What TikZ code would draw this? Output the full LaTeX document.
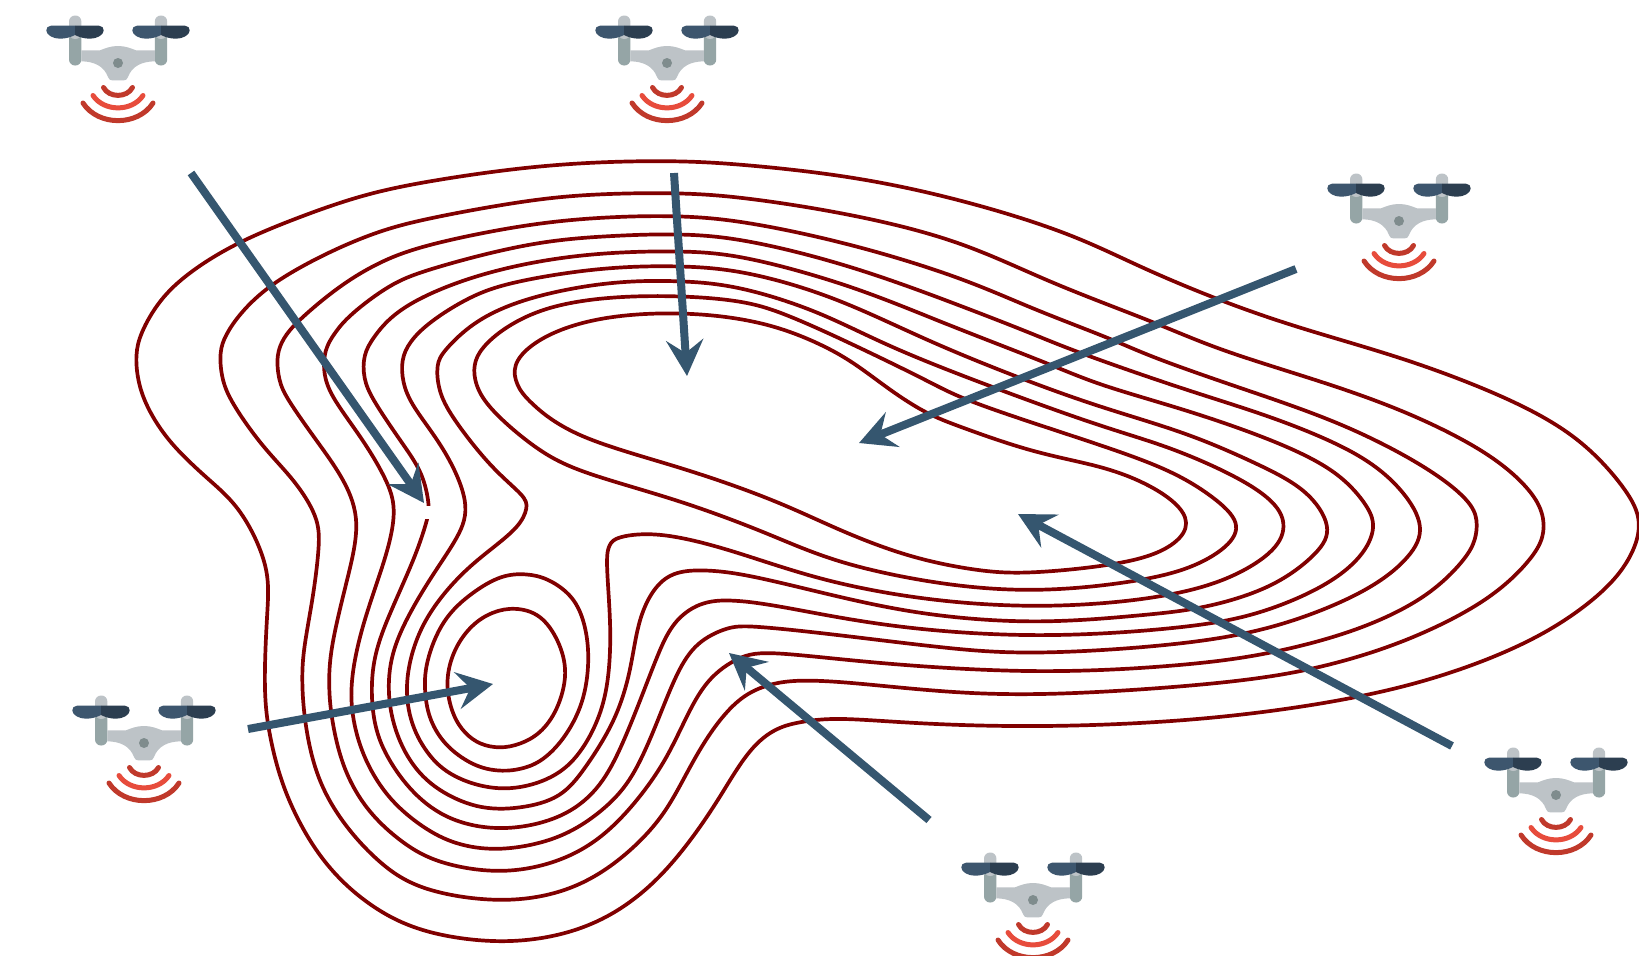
\documentclass[tikz,border=0pt]{standalone}
\usetikzlibrary{arrows.meta,calc}
\definecolor{contourred}{HTML}{800000}
\definecolor{arrowblue}{HTML}{35566F}
\definecolor{propL}{HTML}{3D566E}
\definecolor{propR}{HTML}{2C3E50}
\definecolor{greyA}{HTML}{BDC3C7}
\definecolor{greyB}{HTML}{95A5A6}
\definecolor{greyC}{HTML}{7F8C8D}
\definecolor{sigA}{HTML}{C0392B}
\definecolor{sigB}{HTML}{E74C3C}
\tikzset{
  contour/.style={draw=contourred,line width=3.7pt,line join=round},
  flight/.style={draw=arrowblue,line width=8pt,-{Stealth[length=36pt,width=37pt,inset=13pt]}},
  signal/.style={line width=5pt,line cap=round},
  propeller/.pic={
    \fill[propL] (0,-37.3) -- (-24,-37.3) .. controls (-27,-37.3) and (-29,-35) .. (-28.7,-32.5) .. controls (-28.5,-28) and (-22,-24.3) .. (-15,-24.3) .. controls (-9,-24.3) and (-4,-26) .. (0,-28) -- cycle;
    \fill[propR] (0,-37.3) -- (24,-37.3) .. controls (27,-37.3) and (29,-35) .. (28.7,-32.5) .. controls (28.5,-28) and (22,-24.3) .. (15,-24.3) .. controls (9,-24.3) and (4,-26) .. (0,-28) -- cycle;
  },
  drone/.pic={
    \fill[greyB,rounded corners=6pt] (-49,-30) rectangle (-36.6,2.5);
    \fill[greyB,rounded corners=6pt] (36.8,-30) rectangle (49.2,2.5);
    \fill[greyA,rounded corners=6pt] (-49,-47.5) rectangle (-36.6,-24);
    \fill[greyA,rounded corners=6pt] (36.8,-47.5) rectangle (49.2,-24);
    \pic at (-43,0) {propeller};
    \pic at (43,0) {propeller};
    \fill[greyA] (-36.6,-12.7) -- (-18,-12.7) .. controls (-12,-15) and (-7,-17) .. (0,-17) .. controls (7,-17) and (12,-15) .. (18,-12.7) -- (36.8,-12.7) -- (36.8,-1.7) .. controls (24,-1.5) and (14,3) .. (10,14) .. controls (9,16.5) and (8,17.3) .. (6,17.3) -- (-6,17.3) .. controls (-8,17.3) and (-9,16.5) .. (-10,14) .. controls (-14,3) and (-24,-1.5) .. (-36.6,-1.7) -- cycle;
    \fill[greyC] (0,0) circle (5pt);
    \draw[signal,sigA] (-14.5,24.5) .. controls (-9,35) and (9,35) .. (14.5,24.5);
    \draw[signal,sigB] (-25,32.5) .. controls (-14,49) and (14,49) .. (25,32.5);
    \draw[signal,sigA] (-35,40) .. controls (-20,63.5) and (20,63.5) .. (35,40);
  }
}
% closed C2 spline: the listed points are pushed out a little, then used as B-spline control points
\newcommand\isoline[1]{%
  \foreach \p [count=\i from 0] in {#1} {\edef\storecmd{\noexpand\coordinate (R\i) at \p;}\storecmd \xdef\lastpt{\i}}%
  \pgfmathtruncatemacro\ptcount{\lastpt+1}%
  \foreach \i [evaluate=\i as \a using {int(mod(\i+\ptcount-1,\ptcount))},evaluate=\i as \b using {int(mod(\i+1,\ptcount))}] in {0,...,\lastpt}
    {\coordinate (B\i) at ($1.16667*(R\i)-0.08333*(R\a)-0.08333*(R\b)$);}%
  \draw[contour] ($0.16667*(B\lastpt)+0.66667*(B0)+0.16667*(B1)$)
    \foreach \i [evaluate=\i as \j using {int(mod(\i+1,\ptcount))},evaluate=\i as \k using {int(mod(\i+2,\ptcount))}] in {0,...,\lastpt}
    { .. controls ($0.66667*(B\i)+0.33333*(B\j)$) and ($0.33333*(B\i)+0.66667*(B\j)$) .. ($0.16667*(B\i)+0.66667*(B\j)+0.16667*(B\k)$) } -- cycle;%
}
\begin{document}
\begin{tikzpicture}[x=1pt,y=-1pt]
\useasboundingbox (0,0) rectangle (1639,956);
\clip (0,0) rectangle (1639,956);
\fill[white] (0,0) rectangle (1639,956);
% contours, outermost first
\isoline{(600,162),(680,161),(747,165),(854,177),(961,200),(1068,233),(1140,267),(1224,302),(1306,330),(1409,360),(1512,400),(1581,440),(1626,490),(1640,520),(1634,550),(1609,587),(1547,633),(1461,670),(1358,698),(1203,720),(1035,727),(910,723),(839,718),(800,722),(773,730),(747,753),(720,797),(693,837),(660,877),(620,910),(570,933),(503,943),(427,933),(377,910),(337,877),(307,837),(283,787),(270,737),(264,690),(267,613),(268,567),(241,510),(209,480),(170,443),(147,407),(138,380),(136,355),(141,333),(160,300),(190,272),(237,243),(297,218),(363,195),(430,181),(520,168)}
\isoline{(600,194),(680,193),(747,198),(854,215),(961,242),(1051,283),(1154,322),(1220,350),(1323,382),(1409,413),(1488,453),(1530,490),(1543,515),(1543,537),(1530,560),(1488,600),(1409,640),(1323,667),(1227,683),(1053,695),(946,692),(856,683),(800,680),(767,685),(737,700),(707,737),(683,780),(660,820),(620,860),(570,890),(503,902),(423,890),(380,863),(343,823),(317,777),(305,723),(302,680),(304,647),(313,597),(319,547),(317,517),(294,480),(263,447),(232,403),(222,378),(220,352),(226,335),(240,314),(270,285),(323,255),(377,232),(430,218),(530,200)}
\isoline{(610,217),(680,216),(747,222),(854,245),(961,278),(1033,309),(1109,338),(1152,357),(1237,387),(1341,423),(1426,467),(1468,500),(1477,520),(1475,540),(1464,560),(1426,597),(1358,630),(1272,653),(1186,665),(1038,673),(874,663),(773,652),(740,657),(707,680),(685,720),(667,757),(643,793),(607,833),(563,860),(503,873),(440,863),(403,843),(367,810),(343,767),(332,720),(329,687),(331,647),(347,580),(359,523),(344,480),(316,440),(288,400),(279,380),(277,355),(284,338),(297,322),(337,288),(380,262),(430,244),(530,224)}
\isoline{(610,236),(680,234),(747,240),(854,267),(961,306),(1033,334),(1077,352),(1186,390),(1272,417),(1358,453),(1402,490),(1423,527),(1409,557),(1368,590),(1289,623),(1196,643),(1038,654),(946,648),(839,635),(753,626),(727,628),(697,643),(677,673),(658,720),(633,777),(603,810),(560,838),(503,850),(460,845),(427,830),(390,800),(365,760),(353,720),(351,680),(363,623),(386,557),(395,513),(388,483),(363,440),(334,400),(324,375),(325,350),(335,333),(350,315),(390,285),(430,269),(530,243)}
\isoline{(584,254),(680,251),(747,257),(854,287),(943,323),(1047,363),(1100,385),(1186,410),(1272,440),(1334,470),(1365,503),(1375,527),(1361,557),(1323,587),(1255,615),(1179,628),(1038,637),(892,627),(785,607),(733,600),(700,603),(673,623),(657,657),(643,693),(620,750),(597,790),(560,818),(503,830),(450,820),(413,793),(387,757),(373,720),(372,663),(390,613),(415,557),(427,520),(429,505),(422,473),(402,443),(373,400),(364,378),(364,355),(374,337),(393,315),(430,293),(495,270)}
\fill[white] (420,506) rectangle (437,519);
\isoline{(600,268),(680,266),(747,272),(836,298),(926,340),(1017,377),(1100,407),(1186,433),(1255,463),(1306,490),(1330,527),(1317,553),(1272,587),(1203,608),(1142,615),(1038,623),(928,615),(839,597),(749,575),(703,570),(673,573),(653,590),(638,623),(630,673),(614,722),(585,768),(560,797),(520,808),(477,808),(433,787),(407,757),(392,720),(388,680),(397,637),(429,580),(458,537),(468,503),(445,450),(413,407),(403,382),(402,360),(410,342),(430,322),(470,297),(513,282)}
\isoline{(610,282),(680,281),(740,287),(819,312),(890,347),(992,387),(1100,426),(1169,447),(1237,477),(1275,503),(1285,527),(1272,553),(1220,583),(1142,600),(1038,607),(928,600),(821,580),(731,550),(660,533),(618,537),(610,545),(606,560),(611,627),(608,683),(598,720),(580,753),(553,778),(503,791),(453,777),(427,753),(410,720),(406,677),(422,623),(458,577),(490,550),(518,527),(527,508),(523,495),(491,467),(452,417),(439,390),(437,365),(445,350),(477,320),(531,297)}
\isoline{(610,297),(680,296),(740,301),(783,313),(854,345),(926,380),(961,398),(1030,422),(1100,445),(1169,470),(1213,497),(1239,523),(1227,547),(1186,570),(1124,583),(1038,591),(946,585),(839,563),(767,533),(678,500),(584,473),(538,450),(491,410),(476,385),(474,365),(482,348),(506,327),(548,307)}
\isoline{(620,315),(694,313),(765,323),(818,343),(854,363),(890,390),(926,413),(961,427),(1033,452),(1100,466),(1145,483),(1176,503),(1188,523),(1176,543),(1134,562),(1035,573),(981,571),(910,557),(839,530),(774,500),(680,467),(577,437),(531,403),(517,385),(514,365),(531,345),(566,327)}
% small basin
\isoline{(501,576),(526,574),(548,579),(573,597),(585,625),(589,660),(583,703),(563,740),(540,762),(520,769),(503,771),(477,767),(447,747),(430,720),(425,693),(426,663),(443,620),(472,593)}
\isoline{(515,608),(540,615),(558,640),(567,673),(557,710),(540,733),(520,744),(500,748),(480,744),(465,733),(453,715),(446,683),(454,650),(472,625),(493,612)}
% drones
\pic at (118,63) {drone};
\pic at (667,63) {drone};
\pic at (1399,221) {drone};
\pic at (144,743) {drone};
\pic at (1556,795) {drone};
\pic at (1033,900) {drone};
% flight arrows
\coordinate (s1) at (191,173); \coordinate (t1) at (424,503);
\coordinate (s2) at (674,173); \coordinate (t2) at (687,376);
\coordinate (s3) at (1296,269); \coordinate (t3) at (859,443);
\coordinate (s4) at (1452,746); \coordinate (t4) at (1018,514);
\coordinate (s5) at (929,820); \coordinate (t5) at (729,653);
\coordinate (s6) at (248,729); \coordinate (t6) at (493,684);
\draw[flight] (s1) -- (t1);
\draw[flight] (s2) -- (t2);
\draw[flight] (s3) -- (t3);
\draw[flight] (s4) -- (t4);
\draw[flight] (s5) -- (t5);
\draw[flight] (s6) -- (t6);
\end{tikzpicture}
\end{document}
